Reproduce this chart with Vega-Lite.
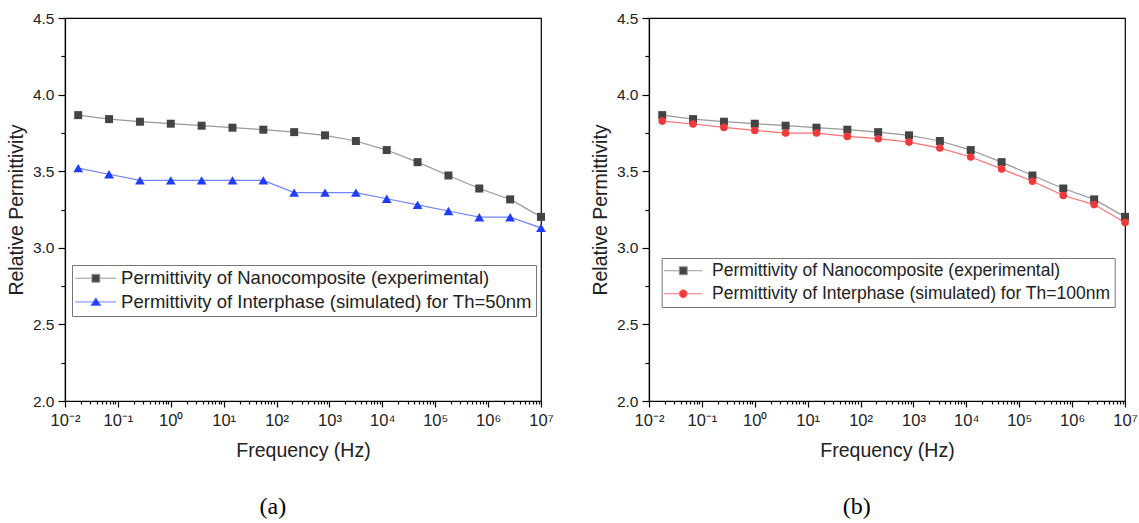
{
  "$schema": "https://vega.github.io/schema/vega-lite/v6.json",
  "padding": {"left": 5, "top": 10, "right": 0, "bottom": 0},
  "background": "white",
  "spacing": 35,
  "config": {
    "font": "Liberation Sans",
    "view": {"stroke": "#000", "strokeWidth": 1.2},
    "axis": {
      "domainColor": "#000", "domainWidth": 1.2, "tickColor": "#000", "tickWidth": 1.2,
      "labelColor": "#222", "titleColor": "#222", "grid": false,
      "titleFontWeight": "normal", "labelOverlap": false, "labelFlush": false, "labelBound": false
    },
    "title": {"font": "Liberation Serif", "fontSize": 24, "fontWeight": "normal", "color": "#000", "orient": "bottom", "offset": 35, "frame": "bounds", "anchor": "middle", "dx": -7}
  },
  "resolve": {"scale": {"x": "independent", "y": "independent", "stroke": "independent", "fill": "independent", "shape": "independent", "size": "independent"}},
  "hconcat": [
    {
      "title": {"text": "(a)"},
      "width": 476, "height": 383,
      "data": {"values": [
        {"series": "Permittivity of Nanocomposite (experimental)", "kind": "exp", "freq": 0.01778, "eps": 3.866},
        {"series": "Permittivity of Nanocomposite (experimental)", "kind": "exp", "freq": 0.0681, "eps": 3.840},
        {"series": "Permittivity of Nanocomposite (experimental)", "kind": "exp", "freq": 0.261, "eps": 3.823},
        {"series": "Permittivity of Nanocomposite (experimental)", "kind": "exp", "freq": 1.0, "eps": 3.810},
        {"series": "Permittivity of Nanocomposite (experimental)", "kind": "exp", "freq": 3.831, "eps": 3.797},
        {"series": "Permittivity of Nanocomposite (experimental)", "kind": "exp", "freq": 14.68, "eps": 3.784},
        {"series": "Permittivity of Nanocomposite (experimental)", "kind": "exp", "freq": 56.23, "eps": 3.771},
        {"series": "Permittivity of Nanocomposite (experimental)", "kind": "exp", "freq": 215.4, "eps": 3.755},
        {"series": "Permittivity of Nanocomposite (experimental)", "kind": "exp", "freq": 825.4, "eps": 3.734},
        {"series": "Permittivity of Nanocomposite (experimental)", "kind": "exp", "freq": 3162, "eps": 3.697},
        {"series": "Permittivity of Nanocomposite (experimental)", "kind": "exp", "freq": 12115, "eps": 3.638},
        {"series": "Permittivity of Nanocomposite (experimental)", "kind": "exp", "freq": 46416, "eps": 3.559},
        {"series": "Permittivity of Nanocomposite (experimental)", "kind": "exp", "freq": 177828, "eps": 3.472},
        {"series": "Permittivity of Nanocomposite (experimental)", "kind": "exp", "freq": 681292, "eps": 3.387},
        {"series": "Permittivity of Nanocomposite (experimental)", "kind": "exp", "freq": 2610157, "eps": 3.316},
        {"series": "Permittivity of Nanocomposite (experimental)", "kind": "exp", "freq": 10000000, "eps": 3.202},
        {"series": "Permittivity of Interphase (simulated) for Th=50nm", "kind": "sim", "freq": 0.01778, "eps": 3.52},
        {"series": "Permittivity of Interphase (simulated) for Th=50nm", "kind": "sim", "freq": 0.0681, "eps": 3.48},
        {"series": "Permittivity of Interphase (simulated) for Th=50nm", "kind": "sim", "freq": 0.261, "eps": 3.44},
        {"series": "Permittivity of Interphase (simulated) for Th=50nm", "kind": "sim", "freq": 1.0, "eps": 3.44},
        {"series": "Permittivity of Interphase (simulated) for Th=50nm", "kind": "sim", "freq": 3.831, "eps": 3.44},
        {"series": "Permittivity of Interphase (simulated) for Th=50nm", "kind": "sim", "freq": 14.68, "eps": 3.44},
        {"series": "Permittivity of Interphase (simulated) for Th=50nm", "kind": "sim", "freq": 56.23, "eps": 3.44},
        {"series": "Permittivity of Interphase (simulated) for Th=50nm", "kind": "sim", "freq": 215.4, "eps": 3.36},
        {"series": "Permittivity of Interphase (simulated) for Th=50nm", "kind": "sim", "freq": 825.4, "eps": 3.36},
        {"series": "Permittivity of Interphase (simulated) for Th=50nm", "kind": "sim", "freq": 3162, "eps": 3.36},
        {"series": "Permittivity of Interphase (simulated) for Th=50nm", "kind": "sim", "freq": 12115, "eps": 3.32},
        {"series": "Permittivity of Interphase (simulated) for Th=50nm", "kind": "sim", "freq": 46416, "eps": 3.28},
        {"series": "Permittivity of Interphase (simulated) for Th=50nm", "kind": "sim", "freq": 177828, "eps": 3.24},
        {"series": "Permittivity of Interphase (simulated) for Th=50nm", "kind": "sim", "freq": 681292, "eps": 3.20},
        {"series": "Permittivity of Interphase (simulated) for Th=50nm", "kind": "sim", "freq": 2610157, "eps": 3.20},
        {"series": "Permittivity of Interphase (simulated) for Th=50nm", "kind": "sim", "freq": 10000000, "eps": 3.13}
      ]},
      "encoding": {
        "x": {"field": "freq", "type": "quantitative",
          "scale": {"type": "log", "domain": [0.01, 10000000], "nice": false},
          "axis": {
            "title": "Frequency (Hz)", "titleFontSize": 19.5, "titlePadding": 13,
            "labelFontSize": 16.5, "labelPadding": 5,
            "values": [0.01,0.02,0.03,0.04,0.05,0.06,0.07,0.08,0.09,0.1,0.2,0.3,0.4,0.5,0.6,0.7,0.8,0.9,1,2,3,4,5,6,7,8,9,10,20,30,40,50,60,70,80,90,100,200,300,400,500,600,700,800,900,1000,2000,3000,4000,5000,6000,7000,8000,9000,10000,20000,30000,40000,50000,60000,70000,80000,90000,100000,200000,300000,400000,500000,600000,700000,800000,900000,1000000,2000000,3000000,4000000,5000000,6000000,7000000,8000000,9000000,10000000],
            "labelExpr": "abs(log(datum.value)/LN10 - round(log(datum.value)/LN10)) < 0.001 ? '10' + (round(log(datum.value)/LN10) < 0 ? '⁻' : '') + ['⁰','¹','²','³','⁴','⁵','⁶','⁷','⁸','⁹'][abs(round(log(datum.value)/LN10))] : ''",
            "tickSize": {"condition": {"test": "abs(log(datum.value)/LN10 - round(log(datum.value)/LN10)) < 0.001", "value": 6}, "value": 3}
          }},
        "y": {"field": "eps", "type": "quantitative",
          "scale": {"domain": [2, 4.5], "nice": false, "zero": false},
          "axis": {
            "title": "Relative Permittivity", "titleFontSize": 19.5, "titlePadding": 6,
            "labelFontSize": 15.5, "labelPadding": 4,
            "values": [2,2.25,2.5,2.75,3,3.25,3.5,3.75,4,4.25,4.5],
            "labelExpr": "abs(datum.value*2 - round(datum.value*2)) < 0.001 ? format(datum.value, '.1f') : ''",
            "tickSize": {"condition": {"test": "abs(datum.value*2 - round(datum.value*2)) < 0.001", "value": 7}, "value": 4}
          }}
      },
      "layer": [
        {
          "mark": {"type": "line", "strokeWidth": 1.2},
          "encoding": {
            "stroke": {"field": "series", "type": "nominal",
              "scale": {"domain": ["Permittivity of Nanocomposite (experimental)", "Permittivity of Interphase (simulated) for Th=50nm"], "range": ["#9a9a9a", "#6f84ff"]},
              "legend": {
                "title": null, "orient": "none", "legendX": 7, "legendY": 247,
                "strokeColor": "#777", "fillColor": "white", "padding": 4,
                "labelFontSize": 18.5, "labelColor": "#222", "labelOffset": 16, "symbolOffset": 10.6, "labelLimit": 1000,
                "symbolSize": 64, "symbolStrokeWidth": 1, "rowPadding": 4.7,
                "encode": {"symbols": {"update": {
                  "shape": {"signal": "datum.value == 'Permittivity of Nanocomposite (experimental)' ? 'M-5.1,0H-1M1,0H5.1M-1,-1H1V1H-1Z' : 'M-5.1,0H-0.7M0.7,0H5.1M0,-1.05L1.25,0.9H-1.25Z'"},
                  "fill": {"signal": "datum.value == 'Permittivity of Nanocomposite (experimental)' ? '#444444' : '#1f3cff'"},
                  "stroke": {"signal": "datum.value == 'Permittivity of Nanocomposite (experimental)' ? '#9a9a9a' : '#6f84ff'"},
                  "strokeOpacity": {"value": 1},
                  "fillOpacity": {"value": 1},
                  "opacity": {"value": 1},
                  "strokeWidth": {"value": 1}
                }}}
              }}
          }
        },
        {
          "mark": {"type": "point", "filled": true, "opacity": 1},
          "encoding": {
            "fill": {"field": "kind", "type": "nominal",
              "scale": {"domain": ["exp", "sim"], "range": ["#444444", "#1f3cff"]},
              "legend": null},
            "shape": {"field": "kind", "type": "nominal",
              "scale": {"domain": ["exp", "sim"], "range": ["square", "triangle-up"]},
              "legend": null},
            "size": {"field": "kind", "type": "nominal",
              "scale": {"domain": ["exp", "sim"], "range": [64, 95]},
              "legend": null}
          }
        }
      ]
    },
    {
      "title": {"text": "(b)"},
      "width": 476, "height": 383,
      "data": {"values": [
        {"series": "Permittivity of Nanocomposite (experimental)", "kind": "exp", "freq": 0.01778, "eps": 3.866},
        {"series": "Permittivity of Nanocomposite (experimental)", "kind": "exp", "freq": 0.0681, "eps": 3.840},
        {"series": "Permittivity of Nanocomposite (experimental)", "kind": "exp", "freq": 0.261, "eps": 3.823},
        {"series": "Permittivity of Nanocomposite (experimental)", "kind": "exp", "freq": 1.0, "eps": 3.810},
        {"series": "Permittivity of Nanocomposite (experimental)", "kind": "exp", "freq": 3.831, "eps": 3.797},
        {"series": "Permittivity of Nanocomposite (experimental)", "kind": "exp", "freq": 14.68, "eps": 3.784},
        {"series": "Permittivity of Nanocomposite (experimental)", "kind": "exp", "freq": 56.23, "eps": 3.771},
        {"series": "Permittivity of Nanocomposite (experimental)", "kind": "exp", "freq": 215.4, "eps": 3.755},
        {"series": "Permittivity of Nanocomposite (experimental)", "kind": "exp", "freq": 825.4, "eps": 3.734},
        {"series": "Permittivity of Nanocomposite (experimental)", "kind": "exp", "freq": 3162, "eps": 3.697},
        {"series": "Permittivity of Nanocomposite (experimental)", "kind": "exp", "freq": 12115, "eps": 3.638},
        {"series": "Permittivity of Nanocomposite (experimental)", "kind": "exp", "freq": 46416, "eps": 3.559},
        {"series": "Permittivity of Nanocomposite (experimental)", "kind": "exp", "freq": 177828, "eps": 3.472},
        {"series": "Permittivity of Nanocomposite (experimental)", "kind": "exp", "freq": 681292, "eps": 3.387},
        {"series": "Permittivity of Nanocomposite (experimental)", "kind": "exp", "freq": 2610157, "eps": 3.316},
        {"series": "Permittivity of Nanocomposite (experimental)", "kind": "exp", "freq": 10000000, "eps": 3.202},
        {"series": "Permittivity of Interphase (simulated) for Th=100nm", "kind": "sim", "freq": 0.01778, "eps": 3.827},
        {"series": "Permittivity of Interphase (simulated) for Th=100nm", "kind": "sim", "freq": 0.0681, "eps": 3.808},
        {"series": "Permittivity of Interphase (simulated) for Th=100nm", "kind": "sim", "freq": 0.261, "eps": 3.786},
        {"series": "Permittivity of Interphase (simulated) for Th=100nm", "kind": "sim", "freq": 1.0, "eps": 3.766},
        {"series": "Permittivity of Interphase (simulated) for Th=100nm", "kind": "sim", "freq": 3.831, "eps": 3.749},
        {"series": "Permittivity of Interphase (simulated) for Th=100nm", "kind": "sim", "freq": 14.68, "eps": 3.749},
        {"series": "Permittivity of Interphase (simulated) for Th=100nm", "kind": "sim", "freq": 56.23, "eps": 3.727},
        {"series": "Permittivity of Interphase (simulated) for Th=100nm", "kind": "sim", "freq": 215.4, "eps": 3.712},
        {"series": "Permittivity of Interphase (simulated) for Th=100nm", "kind": "sim", "freq": 825.4, "eps": 3.690},
        {"series": "Permittivity of Interphase (simulated) for Th=100nm", "kind": "sim", "freq": 3162, "eps": 3.651},
        {"series": "Permittivity of Interphase (simulated) for Th=100nm", "kind": "sim", "freq": 12115, "eps": 3.593},
        {"series": "Permittivity of Interphase (simulated) for Th=100nm", "kind": "sim", "freq": 46416, "eps": 3.515},
        {"series": "Permittivity of Interphase (simulated) for Th=100nm", "kind": "sim", "freq": 177828, "eps": 3.434},
        {"series": "Permittivity of Interphase (simulated) for Th=100nm", "kind": "sim", "freq": 681292, "eps": 3.341},
        {"series": "Permittivity of Interphase (simulated) for Th=100nm", "kind": "sim", "freq": 2610157, "eps": 3.282},
        {"series": "Permittivity of Interphase (simulated) for Th=100nm", "kind": "sim", "freq": 10000000, "eps": 3.165}
      ]},
      "encoding": {
        "x": {"field": "freq", "type": "quantitative",
          "scale": {"type": "log", "domain": [0.01, 10000000], "nice": false},
          "axis": {
            "title": "Frequency (Hz)", "titleFontSize": 19.5, "titlePadding": 13,
            "labelFontSize": 16.5, "labelPadding": 5,
            "values": [0.01,0.02,0.03,0.04,0.05,0.06,0.07,0.08,0.09,0.1,0.2,0.3,0.4,0.5,0.6,0.7,0.8,0.9,1,2,3,4,5,6,7,8,9,10,20,30,40,50,60,70,80,90,100,200,300,400,500,600,700,800,900,1000,2000,3000,4000,5000,6000,7000,8000,9000,10000,20000,30000,40000,50000,60000,70000,80000,90000,100000,200000,300000,400000,500000,600000,700000,800000,900000,1000000,2000000,3000000,4000000,5000000,6000000,7000000,8000000,9000000,10000000],
            "labelExpr": "abs(log(datum.value)/LN10 - round(log(datum.value)/LN10)) < 0.001 ? '10' + (round(log(datum.value)/LN10) < 0 ? '⁻' : '') + ['⁰','¹','²','³','⁴','⁵','⁶','⁷','⁸','⁹'][abs(round(log(datum.value)/LN10))] : ''",
            "tickSize": {"condition": {"test": "abs(log(datum.value)/LN10 - round(log(datum.value)/LN10)) < 0.001", "value": 6}, "value": 3}
          }},
        "y": {"field": "eps", "type": "quantitative",
          "scale": {"domain": [2, 4.5], "nice": false, "zero": false},
          "axis": {
            "title": "Relative Permittivity", "titleFontSize": 19.5, "titlePadding": 6,
            "labelFontSize": 15.5, "labelPadding": 4,
            "values": [2,2.25,2.5,2.75,3,3.25,3.5,3.75,4,4.25,4.5],
            "labelExpr": "abs(datum.value*2 - round(datum.value*2)) < 0.001 ? format(datum.value, '.1f') : ''",
            "tickSize": {"condition": {"test": "abs(datum.value*2 - round(datum.value*2)) < 0.001", "value": 7}, "value": 4}
          }}
      },
      "layer": [
        {
          "mark": {"type": "line", "strokeWidth": 1.2},
          "encoding": {
            "stroke": {"field": "series", "type": "nominal",
              "scale": {"domain": ["Permittivity of Nanocomposite (experimental)", "Permittivity of Interphase (simulated) for Th=100nm"], "range": ["#9a9a9a", "#ff7070"]},
              "legend": {
                "title": null, "orient": "none", "legendX": 12.7, "legendY": 240,
                "strokeColor": "#777", "fillColor": "white", "padding": 4,
                "labelFontSize": 17.5, "labelColor": "#222", "labelOffset": 20, "symbolOffset": 8.8, "labelLimit": 1000,
                "symbolSize": 64, "symbolStrokeWidth": 1, "rowPadding": 4,
                "encode": {"symbols": {"update": {
                  "shape": {"signal": "datum.value == 'Permittivity of Nanocomposite (experimental)' ? 'M-4.8,0H-1M1,0H4.8M-1,-1H1V1H-1Z' : 'M-4.8,0H-1M1,0H4.8M-1,0A1,1 0 1,0 1,0A1,1 0 1,0 -1,0Z'"},
                  "fill": {"signal": "datum.value == 'Permittivity of Nanocomposite (experimental)' ? '#444444' : '#f03a3a'"},
                  "stroke": {"signal": "datum.value == 'Permittivity of Nanocomposite (experimental)' ? '#9a9a9a' : '#ff7070'"},
                  "strokeOpacity": {"value": 1},
                  "fillOpacity": {"value": 1},
                  "opacity": {"value": 1},
                  "strokeWidth": {"value": 1}
                }}}
              }}
          }
        },
        {
          "mark": {"type": "point", "filled": true, "opacity": 1},
          "encoding": {
            "fill": {"field": "kind", "type": "nominal",
              "scale": {"domain": ["exp", "sim"], "range": ["#444444", "#f03a3a"]},
              "legend": null},
            "shape": {"field": "kind", "type": "nominal",
              "scale": {"domain": ["exp", "sim"], "range": ["square", "circle"]},
              "legend": null},
            "size": {"field": "kind", "type": "nominal",
              "scale": {"domain": ["exp", "sim"], "range": [64, 58]},
              "legend": null}
          }
        }
      ]
    }
  ]
}
